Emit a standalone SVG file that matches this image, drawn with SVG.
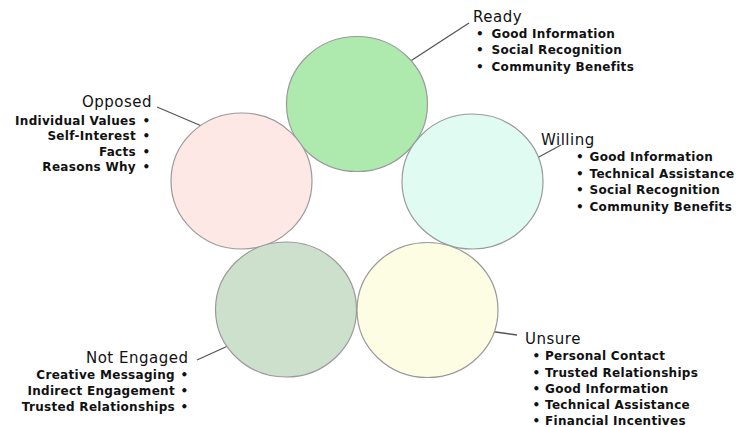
<svg xmlns="http://www.w3.org/2000/svg" width="738" height="427" viewBox="0 0 738 427">
<style>
.c{stroke:#9a9a9a;stroke-width:1.2}
.t{font-family:"DejaVu Sans",Verdana,sans-serif;font-size:15px;letter-spacing:0.5px;fill:#111}
.b{font-family:"DejaVu Sans",Verdana,sans-serif;font-size:12px;font-weight:bold;letter-spacing:0.3px;fill:#111}
.e{text-anchor:end}
.m{text-anchor:middle}
#connectors line{stroke:#555;stroke-width:1.3}
</style>
<rect width="738" height="427" fill="#fff"/>
<g id="connectors">
<line x1="409" y1="62" x2="469" y2="23"/>
<line x1="157" y1="107" x2="204" y2="127"/>
<line x1="537" y1="158" x2="561" y2="145"/>
<line x1="197" y1="360" x2="230" y2="345"/>
<line x1="492" y1="331.5" x2="517" y2="335"/>
</g>
<g id="ready">
<ellipse class="c" cx="357" cy="104" rx="70.5" ry="67.5" fill="#aeeaae"/>
<text class="t" x="473" y="22">Ready</text>
<text class="b"><tspan class="m" x="480" y="37.5">•</tspan><tspan x="491.5" y="37.5">Good Information</tspan></text>
<text class="b"><tspan class="m" x="480" y="54">•</tspan><tspan x="491.5" y="54">Social Recognition</tspan></text>
<text class="b"><tspan class="m" x="480" y="70.5">•</tspan><tspan x="491.5" y="70.5">Community Benefits</tspan></text>
</g>
<g id="opposed">
<ellipse class="c" cx="241.5" cy="181" rx="70.5" ry="68" fill="#fde8e6"/>
<text class="t e" x="152" y="107">Opposed</text>
<text class="b"><tspan class="e" x="136" y="124.5">Individual Values</tspan><tspan class="m" x="146.5" y="124.5">•</tspan></text>
<text class="b"><tspan class="e" x="136" y="140">Self-Interest</tspan><tspan class="m" x="146.5" y="140">•</tspan></text>
<text class="b"><tspan class="e" x="136" y="155.5">Facts</tspan><tspan class="m" x="146.5" y="155.5">•</tspan></text>
<text class="b"><tspan class="e" x="136" y="171">Reasons Why</tspan><tspan class="m" x="146.5" y="171">•</tspan></text>
</g>
<g id="willing">
<ellipse class="c" cx="472.5" cy="181.5" rx="70.5" ry="67.5" fill="#e0fbf2"/>
<text class="t" x="541" y="144.5">Willing</text>
<text class="b"><tspan class="m" x="580" y="161">•</tspan><tspan x="589.5" y="161">Good Information</tspan></text>
<text class="b"><tspan class="m" x="580" y="177.5">•</tspan><tspan x="589.5" y="177.5">Technical Assistance</tspan></text>
<text class="b"><tspan class="m" x="580" y="194">•</tspan><tspan x="589.5" y="194">Social Recognition</tspan></text>
<text class="b"><tspan class="m" x="580" y="210.5">•</tspan><tspan x="589.5" y="210.5">Community Benefits</tspan></text>
</g>
<g id="not-engaged">
<ellipse class="c" cx="286" cy="309.5" rx="70.5" ry="67.5" fill="#cde0cc"/>
<text class="t e" x="188.5" y="363">Not Engaged</text>
<text class="b"><tspan class="e" x="175" y="379">Creative Messaging</tspan><tspan class="m" x="184.5" y="379">•</tspan></text>
<text class="b"><tspan class="e" x="175" y="395">Indirect Engagement</tspan><tspan class="m" x="184.5" y="395">•</tspan></text>
<text class="b"><tspan class="e" x="175" y="411">Trusted Relationships</tspan><tspan class="m" x="184.5" y="411">•</tspan></text>
</g>
<g id="unsure">
<ellipse class="c" cx="427.5" cy="310" rx="70.5" ry="67.5" fill="#fdfde3"/>
<text class="t" x="525" y="343.5">Unsure</text>
<text class="b"><tspan class="m" x="536.5" y="360">•</tspan><tspan x="545" y="360">Personal Contact</tspan></text>
<text class="b"><tspan class="m" x="536.5" y="376.5">•</tspan><tspan x="545" y="376.5">Trusted Relationships</tspan></text>
<text class="b"><tspan class="m" x="536.5" y="393">•</tspan><tspan x="545" y="393">Good Information</tspan></text>
<text class="b"><tspan class="m" x="536.5" y="409">•</tspan><tspan x="545" y="409">Technical Assistance</tspan></text>
<text class="b"><tspan class="m" x="536.5" y="425">•</tspan><tspan x="545" y="425">Financial Incentives</tspan></text>
</g>
</svg>
